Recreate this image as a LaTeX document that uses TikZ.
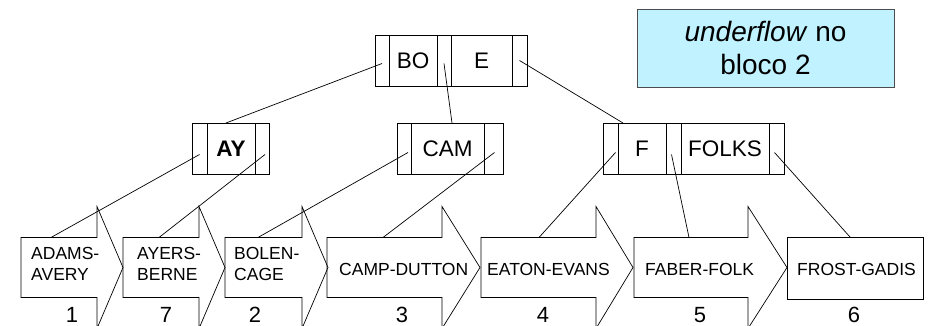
\documentclass[tikz,border=0pt]{standalone}
\usepackage{fontspec}
\setmainfont{Liberation Sans}
\usepackage{tikz}
\usetikzlibrary{calc}
\definecolor{flowcyan}{RGB}{192,242,255}
\tikzset{
	bcell/.style={draw, rectangle, inner sep=0pt, outer sep=0pt, minimum height=51pt, line width=0.7pt, font=\fontsize{22.5}{27}\selectfont},
	leaf/.style={rectangle, inner sep=0pt, outer sep=0pt, minimum height=60pt},
	leaftext/.style={anchor=west, inner sep=0pt, align=left, font=\fontsize{17.5}{21.7}\selectfont},
	num/.style={anchor=base, inner sep=0pt, font=\fontsize{22}{26}\selectfont},
	link/.style={line width=0.7pt},
}

\begin{document}
\begin{tikzpicture}[x=1pt,y=-1pt]
	\useasboundingbox (0,0) rectangle (932,326);

	\node [draw=black!70,fill=flowcyan,minimum width=257pt,minimum height=78pt,align=center,inner sep=0pt,font=\fontsize{28}{32.3}\selectfont] (uf) at (765.5,48) {\textit{underflow} no\\bloco 2};

	\node [bcell,minimum width=14pt] (r0) at (382,60.5) {};
	\node [bcell,minimum width=48pt] (r1) at (413,60.5) {BO};
	\node [bcell,minimum width=14pt] (r2) at (444,60.5) {};
	\node [bcell,minimum width=61pt] (r3) at (481.5,60.5) {E};
	\node [bcell,minimum width=15pt] (r4) at (519.5,60.5) {};

	\node [bcell,minimum width=15pt] (a0) at (199.5,148.5) {};
	\node [bcell,minimum width=48pt] (a1) at (231,148.5) {\textbf{AY}};
	\node [bcell,minimum width=14pt] (a2) at (262,148.5) {};

	\node [bcell,minimum width=14pt] (c0) at (404,148.5) {};
	\node [bcell,minimum width=73pt] (c1) at (447.5,148.5) {CAM};
	\node [bcell,minimum width=19pt] (c2) at (493.5,148.5) {};

	\node [bcell,minimum width=15pt] (f0) at (610.5,148.5) {};
	\node [bcell,minimum width=48pt] (f1) at (642,148.5) {F};
	\node [bcell,minimum width=15pt] (f2) at (673.5,148.5) {};
	\node [bcell,minimum width=88pt] (f3) at (725,148.5) {FOLKS};
	\node [bcell,minimum width=15pt] (f4) at (776.5,148.5) {};

	\node [leaf,minimum width=76pt] (l1) at (59,267.5) {};
	\node [leaf,minimum width=76pt] (l2) at (161,267.5) {};
	\node [leaf,minimum width=77pt] (l3) at (263.5,267.5) {};
	\node [leaf,minimum width=115pt] (l4) at (384.5,267.5) {};
	\node [leaf,minimum width=115pt] (l5) at (538.5,267.5) {};
	\node [leaf,minimum width=114pt] (l6) at (691,267.5) {};
	\node [leaf,draw,line width=0.7pt,minimum width=136pt,minimum height=62pt] (l7) at (855,268) {};

	\foreach \l/\h in {l1/26,l2/26,l3/26,l4/38,l5/37,l6/39}
		\draw [link] (\l.north west) -- (\l.north east) -- ([yshift=31pt]\l.north east) -- ([xshift=\h pt]\l.east) -- ([yshift=-31pt]\l.south east) -- (\l.south east) -- (\l.south west) -- cycle;

	\node [leaftext] (t1) at (31,264) {ADAMS-\\AVERY};
	\node [leaftext] (t2) at (137,264) {AYERS-\\BERNE};
	\node [leaftext] (t3) at (234,264) {BOLEN-\\CAGE};
	\node [leaftext] (t4) at (339,269.5) {CAMP-DUTTON};
	\node [leaftext] (t5) at (487,269.5) {EATON-EVANS};
	\node [leaftext] (t6) at (645,269.5) {FABER-FOLK};
	\node [leaftext] (t7) at (797,269.5) {FROST-GADIS};

	\node [num] (n1) at (72,322) {1};
	\node [num] (n2) at (166,322) {7};
	\node [num] (n3) at (255,322) {2};
	\node [num] (n4) at (402,322) {3};
	\node [num] (n5) at (543,322) {4};
	\node [num] (n6) at (700,322) {5};
	\node [num] (n7) at (854,322) {6};

	\draw [link] ([yshift=-3pt]r0.center) to ([xshift=19pt]a1.north west);
	\draw [link] ([yshift=-3pt]r2.center) to ([xshift=41pt]c1.north west);
	\draw [link] (r4.center) to ([xshift=5pt]f1.north west);

	\draw [link] ([yshift=-6pt]a0.center) to ([xshift=30pt]l1.north west);
	\draw [link] ([xshift=3pt,yshift=-6pt]a2.center) to ([xshift=36pt]l2.north west);
	\draw [link] ([xshift=4pt,yshift=-4pt]c0.center) to ([xshift=33pt]l3.north west);
	\draw [link] ([xshift=1pt,yshift=-4pt]c2.center) to ([xshift=56pt]l4.north west);
	\draw [link] ([xshift=5pt,yshift=-4pt]f0.center) to ([xshift=58pt]l5.north west);
	\draw [link] ([xshift=-2pt,yshift=-6pt]f2.center) to ([xshift=55pt]l6.north west);
	\draw [link] ([xshift=-2pt,yshift=-4pt]f4.center) to ([xshift=63pt]l7.north west);
\end{tikzpicture}
\end{document}
